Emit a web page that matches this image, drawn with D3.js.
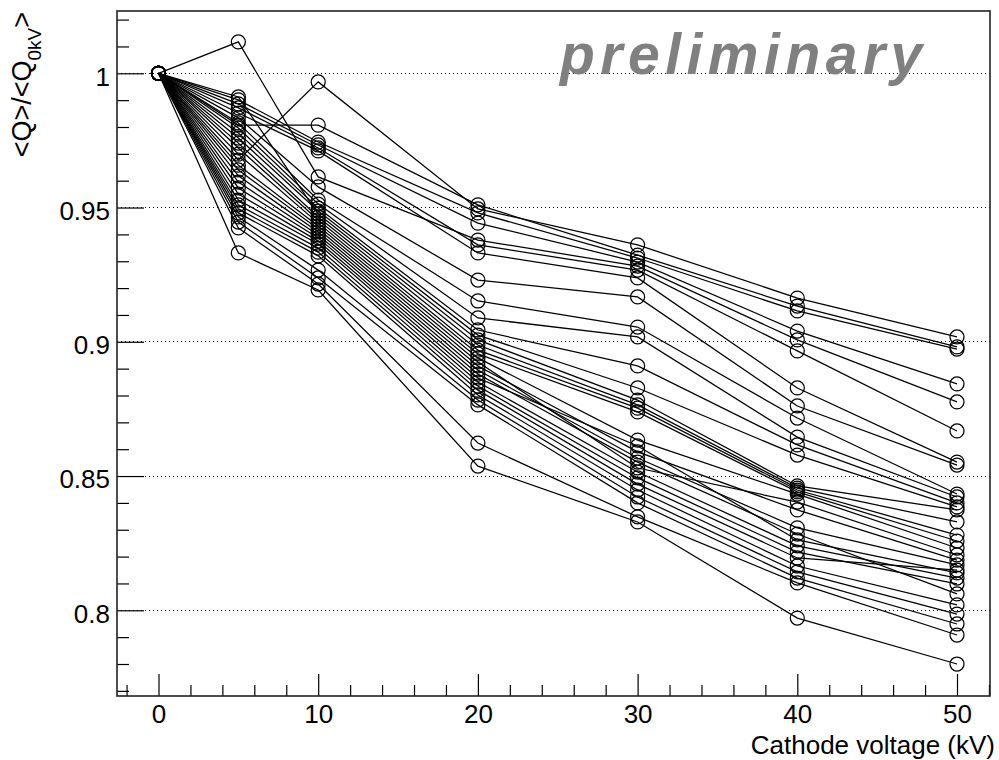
<!DOCTYPE html>
<html><head><meta charset="utf-8">
<script src="https://cdn.jsdelivr.net/npm/d3@7"></script>
<style>html,body{margin:0;padding:0;background:#fff;} svg{display:block;font-family:"Liberation Sans",Arial,Helvetica,sans-serif;}</style>
</head><body><svg id="chart" width="999" height="760"></svg>
<script>
// ---- data ----
const voltages = [0, 5, 10, 20, 30, 40, 50];
const run01 = [1, 0.9677, 0.9968, 0.9495, 0.9361, 0.9163, 0.9018];
const run02 = [1, 0.9807, 0.9807, 0.9510, 0.9323, 0.9133, 0.8981];
const run03 = [1, 0.9901, 0.9744, 0.9480, 0.9312, 0.9115, 0.8973];
const run04 = [1, 0.9886, 0.9733, 0.9442, 0.9297, 0.9040, 0.8843];
const run05 = [1, 1.0117, 0.9614, 0.9379, 0.9282, 0.9007, 0.8776];
const run06 = [1, 0.9871, 0.9722, 0.9361, 0.9267, 0.8966, 0.8668];
const run07 = [1, 0.9852, 0.9711, 0.9331, 0.9238, 0.8828, 0.8552];
const run08 = [1, 0.9834, 0.9577, 0.9230, 0.9167, 0.8761, 0.8541];
const run09 = [1, 0.9815, 0.9528, 0.9152, 0.9055, 0.8716, 0.8433];
const run10 = [1, 0.9796, 0.9513, 0.9089, 0.9018, 0.8645, 0.8422];
const run11 = [1, 0.9778, 0.9498, 0.9044, 0.8910, 0.8616, 0.8400];
const run12 = [1, 0.9759, 0.9487, 0.9025, 0.8828, 0.8578, 0.8385];
const run13 = [1, 0.9912, 0.9476, 0.9007, 0.8783, 0.8463, 0.8374];
const run14 = [1, 0.9740, 0.9465, 0.8988, 0.8765, 0.8455, 0.8329];
const run15 = [1, 0.9722, 0.9454, 0.8969, 0.8753, 0.8448, 0.8280];
const run16 = [1, 0.9699, 0.9442, 0.8955, 0.8739, 0.8441, 0.8258];
const run17 = [1, 0.9658, 0.9431, 0.8940, 0.8634, 0.8433, 0.8232];
const run18 = [1, 0.9640, 0.9420, 0.8925, 0.8530, 0.8403, 0.8206];
const run19 = [1, 0.9618, 0.9409, 0.8910, 0.8590, 0.8374, 0.8187];
const run20 = [1, 0.9595, 0.9398, 0.8895, 0.8567, 0.8307, 0.8169];
const run21 = [1, 0.9573, 0.9387, 0.8880, 0.8552, 0.8284, 0.8061];
const run22 = [1, 0.9550, 0.9375, 0.8865, 0.8612, 0.8262, 0.8139];
const run23 = [1, 0.9528, 0.9364, 0.8850, 0.8515, 0.8240, 0.8120];
const run24 = [1, 0.9510, 0.9349, 0.8835, 0.8493, 0.8217, 0.8098];
const run25 = [1, 0.9495, 0.9334, 0.8820, 0.8470, 0.8195, 0.8150];
const run26 = [1, 0.9480, 0.9320, 0.8802, 0.8448, 0.8165, 0.8020];
const run27 = [1, 0.9465, 0.9267, 0.8783, 0.8422, 0.8143, 0.7986];
const run28 = [1, 0.9446, 0.9238, 0.8765, 0.8400, 0.8120, 0.7949];
const run29 = [1, 0.9424, 0.9215, 0.8623, 0.8348, 0.8102, 0.7908];
const run30 = [1, 0.9331, 0.9193, 0.8537, 0.8329, 0.7971, 0.7800];
const runs = [run01, run02, run03, run04, run05, run06, run07, run08, run09, run10,
              run11, run12, run13, run14, run15, run16, run17, run18, run19, run20,
              run21, run22, run23, run24, run25, run26, run27, run28, run29, run30];

const yTickValues = [0.8, 0.85, 0.9, 0.95, 1];
const yTickLabels = ["0.8", "0.85", "0.9", "0.95", "1"];
const xTickValues = [0, 10, 20, 30, 40, 50];
const xTickLabels = ["0", "10", "20", "30", "40", "50"];
const xTitle = "Cathode voltage (kV)";
const yTitleMain = "<Q>/<Q";
const yTitleSub = "0kV";
const yTitleEnd = ">";
const watermark = "preliminary";

// ---- layout ----
const frame = {left: 117, right: 990, top: 11, bottom: 696};
const x = d3.scaleLinear().domain([0, 50]).range([158.5, 957]);
const y = d3.scaleLinear().domain([0.8, 1]).range([610.3, 73.3]);
const svg = d3.select("#chart");

const xMin = x.invert(frame.left), xMax = x.invert(frame.right);
const yMin = y.invert(frame.bottom), yMax = y.invert(frame.top);

// grid
svg.append("g").selectAll("line").data(yTickValues).join("line")
  .attr("x1", frame.left).attr("x2", frame.right)
  .attr("y1", d => y(d)).attr("y2", d => y(d))
  .attr("stroke", "#000").attr("stroke-width", 1).attr("stroke-dasharray", "1,3")
  .attr("shape-rendering", "crispEdges");

// watermark
svg.append("text").attr("x", 560).attr("y", 74)
  .attr("font-size", 57).attr("font-weight", "bold").attr("font-style", "italic")
  .attr("letter-spacing", 5.5).attr("fill", "#808080").text(watermark);

// data
const line = d3.line().x((d, i) => x(voltages[i])).y(d => y(d));
const gData = svg.append("g");
runs.forEach(r => {
  gData.append("path").attr("d", line(r)).attr("fill", "none")
    .attr("stroke", "#000").attr("stroke-width", 1.25);
  gData.selectAll(null).data(r).join("circle")
    .attr("cx", (d, i) => x(voltages[i])).attr("cy", d => y(d)).attr("r", 7)
    .attr("fill", "none").attr("stroke", "#000").attr("stroke-width", 1.25);
});

// minor ticks
const xMinor = d3.range(-2, 54, 2).filter(v => v % 10 !== 0 && v >= xMin && v <= xMax);
const yMinor = d3.range(77, 103, 1).map(v => v / 100).filter(v => Math.round(v * 100) % 5 !== 0 && v >= yMin && v <= yMax);

svg.append("g").attr("transform", `translate(0,${frame.bottom})`)
  .call(d3.axisBottom(x).tickValues(xMinor).tickSize(-11).tickFormat(""))
  .call(g => g.select(".domain").remove());
svg.append("g").attr("transform", `translate(${frame.left},0)`)
  .call(d3.axisLeft(y).tickValues(yMinor).tickSize(-12).tickFormat(""))
  .call(g => g.select(".domain").remove());

// major axes
const xAxis = svg.append("g").attr("transform", `translate(0,${frame.bottom})`)
  .call(d3.axisBottom(x).tickValues(xTickValues).tickSize(-22).tickPadding(9)
        .tickFormat((d, i) => xTickLabels[i]));
xAxis.select(".domain").remove();
xAxis.selectAll("text").attr("font-size", 26).attr("fill", "#000").attr("font-family", null);

const yAxis = svg.append("g").attr("transform", `translate(${frame.left},0)`)
  .call(d3.axisLeft(y).tickValues(yTickValues).tickSize(-27).tickPadding(7)
        .tickFormat((d, i) => yTickLabels[i]));
yAxis.select(".domain").remove();
yAxis.selectAll("text").attr("font-size", 26).attr("fill", "#000").attr("dy", "0.45em").attr("font-family", null);
svg.selectAll(".tick line").attr("stroke", "#000").attr("stroke-width", 1.2);

// frame
svg.append("rect").attr("x", frame.left).attr("y", frame.top)
  .attr("width", frame.right - frame.left).attr("height", frame.bottom - frame.top)
  .attr("fill", "none").attr("stroke", "#222").attr("stroke-width", 1.6);

// titles
svg.append("text").attr("x", 995).attr("y", 754).attr("text-anchor", "end")
  .attr("font-size", 26).attr("fill", "#000").text(xTitle);

const yt = svg.append("text").attr("transform", "translate(31,12) rotate(-90)")
  .attr("text-anchor", "end").attr("font-size", 27).attr("fill", "#000");
yt.append("tspan").text(yTitleMain);
yt.append("tspan").attr("font-size", 19).attr("dy", 10).text(yTitleSub);
yt.append("tspan").attr("dy", -10).text(yTitleEnd);
</script></body></html>
